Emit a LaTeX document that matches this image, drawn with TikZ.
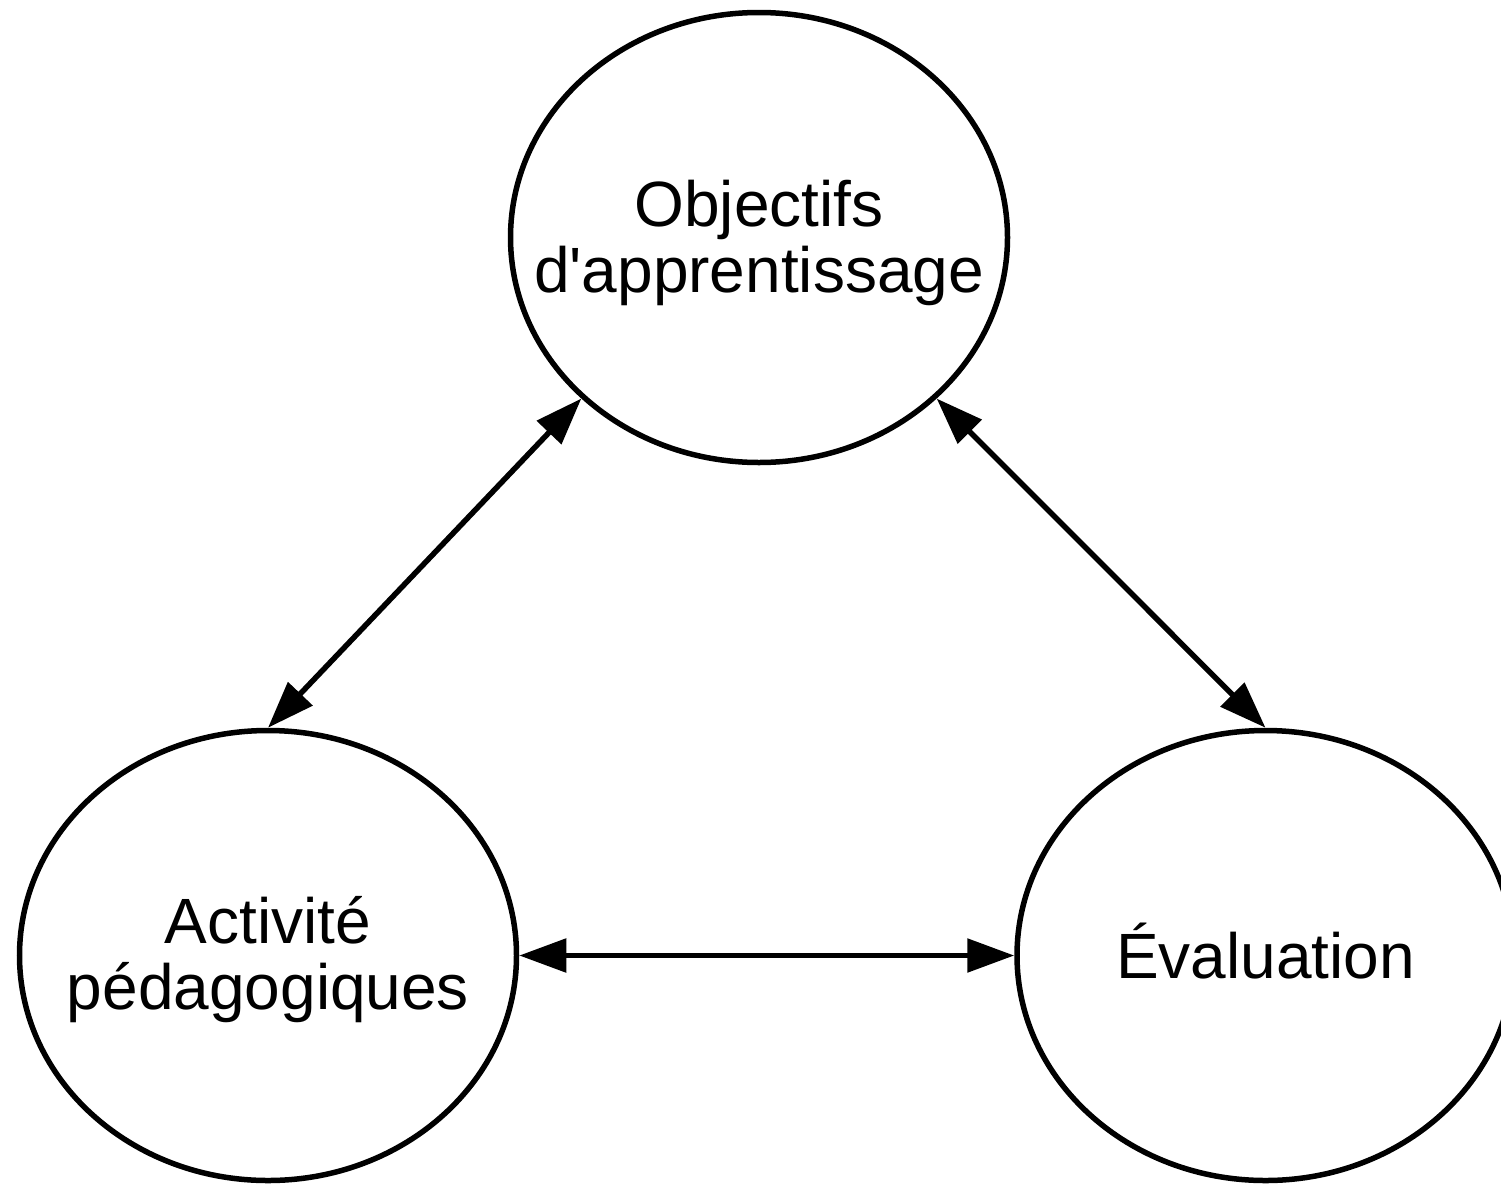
\documentclass[tikz,border=0pt]{standalone}
\usepackage{fontspec}
\setmainfont{Liberation Sans}[Ligatures=TeXOff]
\usetikzlibrary{shapes.geometric,arrows.meta}
\begin{document}
\begin{tikzpicture}[x=1pt,y=1pt,
  bubble/.style={ellipse,draw,line width=5.5pt,inner sep=0pt,minimum width=497pt,minimum height=450pt},
  lbl/.style={font=\fontsize{64}{66}\selectfont,align=center,inner sep=0pt},
  link/.style={line width=5.5pt,{Triangle[length=47pt,width=33pt]}-{Triangle[length=47pt,width=33pt]}}]
\useasboundingbox (0,0) rectangle (1501,-1183);
\node[bubble] (obj) at (759,-237.5) {};
\node[bubble] (act) at (268,-955.5) {};
\node[bubble] (eva) at (1265.5,-955.5) {};
\node[lbl] (tobj) at (759,-243.4) {Objectifs\\d'apprentissage};
\node[lbl] (tact) at (268,-959.2) {Activité\\pédagogiques};
\node[lbl,anchor=base] (teva) at (1265.5,-978) {Évaluation};
\draw[link] (act.north) -- (obj.south west);
\draw[link] (obj.south east) -- (eva.north);
\draw[link] (act.east) -- (eva.west);
\end{tikzpicture}
\end{document}
